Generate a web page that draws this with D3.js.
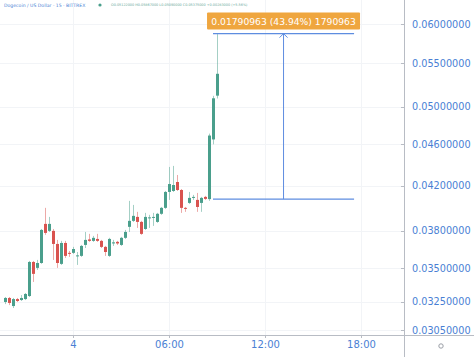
<!DOCTYPE html>
<html><head><meta charset="utf-8">
<script src="https://cdn.jsdelivr.net/npm/d3@7"></script>
<style>html,body{margin:0;padding:0;background:#fff;}svg{display:block;}</style>
</head><body>
<svg id="c" width="474" height="357"></svg>
<script>
// ---- data ----
const title = "Dogecoin / US Dollar · 15 · BITTREX";
const ohlcText = "O0.05122000 H0.05867000 L0.05090000 C0.05375000 +0.00283000 (+5.56%)";
const firstBar = Date.UTC(2021, 1, 3, 19, 45);
const barMinutes = 15;
const opens  = [.03248,.03277,.03219,.03269,.03262,.03269,.03291,.03548,.03502,.03540,.03859,.03800,.03800,.03692,.03533,.03700,.03620,.03620,.03592,.03596,.03684,.03729,.03717,.03733,.03717,.03668,.03596,.03696,.03709,.03684,.03742,.03834,.03885,.03919,.03876,.03816,.03911,.03915,.03876,.03946,.03998,.04141,.04150,.04233,.04159,.03998,.04042,.04091,.04069,.04042,.04096,.04076,.04650,.05122];
const highs  = [.03284,.03284,.03277,.03277,.03298,.03313,.03556,.03556,.03564,.03816,.03998,.03919,.03816,.03725,.03717,.03717,.03635,.03668,.03627,.03684,.03791,.03775,.03758,.03775,.03725,.03676,.03742,.03725,.03717,.03750,.03808,.04060,.04024,.03963,.03885,.03954,.03937,.03954,.03954,.04006,.04150,.04376,.04386,.04299,.04168,.04006,.04141,.04114,.04132,.04096,.04105,.04710,.05120,.05867];
const lows   = [.03233,.03226,.03205,.03248,.03255,.03262,.03284,.03395,.03486,.03533,.03767,.03791,.03564,.03502,.03525,.03580,.03588,.03612,.03525,.03588,.03659,.03709,.03709,.03709,.03659,.03596,.03588,.03676,.03684,.03676,.03733,.03791,.03876,.03825,.03767,.03808,.03825,.03842,.03868,.03937,.03989,.04069,.04141,.04150,.03954,.03963,.04033,.04069,.03963,.03963,.04069,.04060,.04600,.05090];
const closes = [.03277,.03241,.03269,.03255,.03277,.03306,.03548,.03456,.03540,.03808,.03783,.03859,.03692,.03540,.03700,.03596,.03612,.03651,.03600,.03676,.03725,.03717,.03742,.03717,.03668,.03627,.03733,.03705,.03696,.03742,.03791,.03885,.03928,.03876,.03775,.03919,.03915,.03919,.03946,.03998,.04141,.04214,.04205,.04159,.03998,.03994,.04087,.04096,.04006,.04087,.04078,.04690,.05092,.05375];
const priceTicks = [0.0305, 0.0325, 0.035, 0.038, 0.042, 0.046, 0.05, 0.055, 0.06];
const timeTicks = [Date.UTC(2021,1,4,0,0), Date.UTC(2021,1,4,6,0), Date.UTC(2021,1,4,12,0), Date.UTC(2021,1,4,18,0)];
const measureFrom = {time: Date.UTC(2021,1,4,8,45), price: 0.04076};
const measureTo   = {time: Date.UTC(2021,1,4,17,34), price: 0.05867};
const measureLabel = "0.01790963 (43.94%) 1790963";

// ---- layout ----
const W = 474, H = 357, plotR = 404, plotB = 335;
const blue = "#4a7fd4", up = "#4a9f8c", down = "#d9534f", grid = "#f2f4f7", axisCol = "#b8bcc4";
const FONT = "DejaVu Sans, Verdana, sans-serif";
const svg = d3.select("#c");

const x = d3.scaleUtc().domain([Date.UTC(2021,1,3,19,26,15), Date.UTC(2021,1,4,20,41,15)]).range([0, plotR]);
const y = d3.scaleLog().domain([0.030197, 0.06326]).range([plotB, 0]);

const bars = opens.map((o, i) => ({t: d3.utcMinute.offset(new Date(firstBar), i * barMinutes), o, h: highs[i], l: lows[i], c: closes[i]}));

svg.append("rect").attr("width", W).attr("height", H).attr("fill", "#fff");
svg.append("clipPath").attr("id", "clip").append("rect").attr("width", plotR).attr("height", plotB);
const plot = svg.append("g").attr("clip-path", "url(#clip)");

// grid
plot.selectAll(".hg").data(priceTicks).join("line")
  .attr("x1", 0).attr("x2", plotR).attr("y1", d => Math.round(y(d)) + 0.5).attr("y2", d => Math.round(y(d)) + 0.5)
  .attr("stroke", grid);
plot.selectAll(".vg").data(timeTicks).join("line")
  .attr("y1", 0).attr("y2", plotB).attr("x1", d => Math.round(x(d)) + 0.5).attr("x2", d => Math.round(x(d)) + 0.5)
  .attr("stroke", grid);

// candles
const g = plot.append("g");
g.selectAll(".wick").data(bars).join("line")
  .attr("x1", d => Math.round(x(d.t)) + 0.5).attr("x2", d => Math.round(x(d.t)) + 0.5)
  .attr("y1", d => y(d.h)).attr("y2", d => y(d.l))
  .attr("stroke", d => d.c >= d.o ? up : down).attr("stroke-opacity", 0.5).attr("stroke-width", 1);
g.selectAll(".body").data(bars).join("rect")
  .attr("x", d => Math.round(x(d.t)) - 1).attr("width", 3)
  .attr("y", d => y(Math.max(d.o, d.c)))
  .attr("height", d => Math.max(1, Math.abs(y(d.o) - y(d.c))))
  .attr("fill", d => d.c >= d.o ? up : down);

// measure tool
const mc = "#5e8de0";
const mx1 = x(measureFrom.time), mx2 = x(measureTo.time), mxm = (mx1 + mx2) / 2;
const my1 = y(measureFrom.price), my2 = y(measureTo.price) - 0.5;
plot.append("line").attr("x1", mx1).attr("x2", mx2).attr("y1", my1).attr("y2", my1).attr("stroke", mc).attr("stroke-width", 1.3);
plot.append("line").attr("x1", mx1).attr("x2", mx2).attr("y1", my2).attr("y2", my2).attr("stroke", mc).attr("stroke-width", 1.3);
plot.append("line").attr("x1", mxm).attr("x2", mxm).attr("y1", my1).attr("y2", my2).attr("stroke", mc).attr("stroke-width", 1);
plot.append("path").attr("d", `M${mxm-4},${my2+4}L${mxm},${my2}L${mxm+4},${my2+4}`).attr("fill", "none").attr("stroke", mc).attr("stroke-width", 1);
const lbl = plot.append("g");
lbl.append("rect").attr("x", mxm - 76.5).attr("y", my2 - 21).attr("width", 153).attr("height", 17).attr("fill", "#efa63f").attr("rx", 1);
lbl.append("text").attr("x", mxm).attr("y", my2 - 12.5).attr("text-anchor", "middle").attr("dominant-baseline", "central")
  .attr("fill", "#fff").attr("font-family", FONT).attr("font-size", 9.2).text(measureLabel);

// header
svg.append("text").attr("x", 4).attr("y", 5).attr("dominant-baseline", "central").attr("fill", blue)
  .attr("font-family", FONT).attr("font-size", 4.6).text(title);
svg.append("circle").attr("cx", 100).attr("cy", 5).attr("r", 1.6).attr("fill", "#4a9f8c");
svg.append("text").attr("x", 111).attr("y", 5).attr("dominant-baseline", "central").attr("fill", "#6aa99b")
  .attr("font-family", FONT).attr("font-size", 3.4).text(ohlcText);

// price axis
svg.append("line").attr("x1", plotR + 0.5).attr("x2", plotR + 0.5).attr("y1", 0).attr("y2", H).attr("stroke", axisCol);
svg.append("line").attr("x1", 0).attr("x2", W).attr("y1", plotB + 0.5).attr("y2", plotB + 0.5).attr("stroke", axisCol);
const yAxis = d3.axisRight(y).tickValues(priceTicks).tickFormat(d3.format(".8f")).tickSize(0).tickPadding(0);
const ya = svg.append("g").attr("transform", `translate(${plotR + 8},0)`).call(yAxis);
ya.select(".domain").remove();
ya.selectAll("text").attr("fill", blue).attr("font-family", FONT).attr("font-size", 9.7);
svg.selectAll(".ytk").data(priceTicks).join("line")
  .attr("x1", plotR - 3).attr("x2", plotR).attr("y1", d => Math.round(y(d)) + 0.5).attr("y2", d => Math.round(y(d)) + 0.5)
  .attr("stroke", axisCol);

// time axis
const fmt = d => (d.getUTCHours() === 0 && d.getUTCMinutes() === 0) ? String(d.getUTCDate()) : d3.utcFormat("%H:%M")(d);
const xAxis = d3.axisBottom(x).tickValues(timeTicks.map(t => new Date(t))).tickFormat(fmt).tickSize(3).tickPadding(3);
const xa = svg.append("g").attr("transform", `translate(0,${plotB})`).call(xAxis);
xa.select(".domain").remove();
xa.selectAll("line").attr("stroke", axisCol);
xa.selectAll("text").attr("fill", blue).attr("font-family", FONT).attr("font-size", 10);

// settings icon
svg.append("circle").attr("cx", 441).attr("cy", 346).attr("r", 2.2).attr("fill", "none").attr("stroke", "#9a9ea6").attr("stroke-width", 1);
</script>
</body></html>
